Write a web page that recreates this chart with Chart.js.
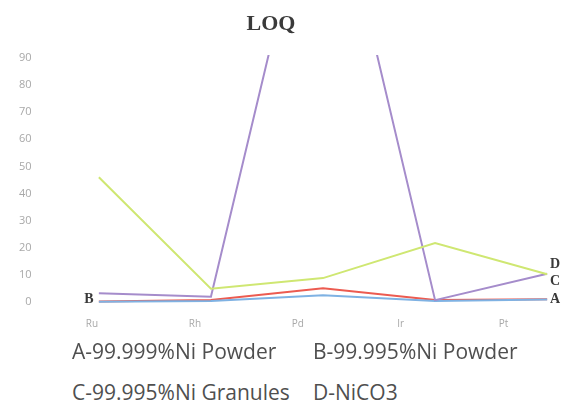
<!DOCTYPE html>
<html>
<head>
<meta charset="utf-8">
<script src="https://cdn.jsdelivr.net/npm/chart.js@4"></script>
<style>
  html, body { margin: 0; padding: 0; background: #fff; }
  #wrap { position: relative; width: 567px; height: 418px; }
  #box { position: absolute; left: 0; top: 0; width: 567px; height: 343px; }
  .leg { position: absolute; font-family: "Open Sans", sans-serif; font-size: 21px; color: #4f4f4f; white-space: nowrap; line-height: 1; }
</style>
</head>
<body>
<div id="wrap">
  <div id="box"><canvas id="c"></canvas></div>
  <div class="leg" style="left:72px; top:341px;">A-99.999%Ni Powder</div>
  <div class="leg" style="left:313px; top:341px;">B-99.995%Ni Powder</div>
  <div class="leg" style="left:72px; top:382px;">C-99.995%Ni Granules</div>
  <div class="leg" style="left:313px; top:382px;">D-NiCO3</div>
</div>
<script>
(function () {
  "use strict";

  // Elements along the x axis.
  const ELEMENTS = ["Ru", "Rh", "Pd", "Ir", "Pt"];

  // LOQ values per sample (Pd for NiCO3 runs off the top).
  const SAMPLE_A = [0.3, 0.8, 5.2, 0.8, 1.1];   // red
  const SAMPLE_B = [0.2, 0.5, 2.6, 0.5, 1.0];   // blue
  const SAMPLE_C = [46, 5.0, 8.9, 21.8, 10.3];  // yellow-green
  const SAMPLE_D = [3.3, 2.0, 175, 0.8, 10.5];  // violet

  const Y_TICKS = [0, 10, 20, 30, 40, 50, 60, 70, 80, 90];

  const COLORS = {
    a: "#ec5b50",
    b: "#7fb2e3",
    c: "#cfe772",
    d: "#a58ccb",
    tick: "#a8a8a8",
    mark: "#3a3a3a",
  };

  function pts(arr) {
    return arr.map(function (v, i) { return { x: i, y: v }; });
  }

  function line(label, arr, color) {
    return {
      label: label,
      data: pts(arr),
      borderColor: color,
      backgroundColor: "transparent",
      borderWidth: 2,
      pointRadius: 0,
      tension: 0,
    };
  }

  // Draws the title and the A/B/C/D tags next to the line ends.
  const annotations = {
    id: "annotations",
    afterDatasetsDraw: function (chart) {
      const ctx = chart.ctx;
      const xs = chart.scales.x;
      const ys = chart.scales.y;
      ctx.save();
      ctx.fillStyle = COLORS.mark;
      ctx.textAlign = "center";
      ctx.textBaseline = "middle";
      ctx.font = "bold 22px 'Liberation Serif', serif";
      ctx.fillText("LOQ", 271, 24);

      ctx.font = "bold 14px 'Liberation Serif', serif";
      ctx.fillText("B", xs.getPixelForValue(0) - 10, ys.getPixelForValue(SAMPLE_A[0]) - 2);
      const px = xs.getPixelForValue(4) + 8;
      ctx.fillText("D", px, ys.getPixelForValue(SAMPLE_C[4]) - 10);
      ctx.fillText("C", px, ys.getPixelForValue(SAMPLE_C[4]) + 7);
      ctx.fillText("A", px, ys.getPixelForValue(SAMPLE_A[4]));
      ctx.restore();
    },
  };

  new Chart(document.getElementById("c"), {
    type: "line",
    data: {
      datasets: [
        line("C", SAMPLE_C, COLORS.c),
        line("D", SAMPLE_D, COLORS.d),
        line("B", SAMPLE_B, COLORS.b),
        line("A", SAMPLE_A, COLORS.a),
      ],
    },
    options: {
      responsive: true,
      maintainAspectRatio: false,
      animation: false,
      layout: { padding: { top: 55, left: 10, right: 12, bottom: 8 } },
      plugins: {
        legend: { display: false },
        title: { display: false },
        tooltip: { enabled: false },
      },
      scales: {
        x: {
          type: "linear",
          min: -0.52,
          max: 4.07,
          display: false,
        },
        labels: {
          type: "category",
          position: "bottom",
          labels: ELEMENTS,
          offset: true,
          grid: { display: false },
          border: { display: false },
          ticks: { color: COLORS.tick, padding: 5, font: { family: "'Open Sans', sans-serif", size: 10 } },
        },
        y: {
          min: -1,
          max: 91,
          grid: { display: false, drawTicks: false },
          border: { display: false },
          afterBuildTicks: function (scale) {
            scale.ticks = Y_TICKS.map(function (v) { return { value: v }; });
          },
          ticks: { color: COLORS.tick, padding: 9, font: { family: "'Open Sans', sans-serif", size: 11 } },
        },
      },
    },
    plugins: [annotations],
  });
})();
</script>
</body>
</html>
